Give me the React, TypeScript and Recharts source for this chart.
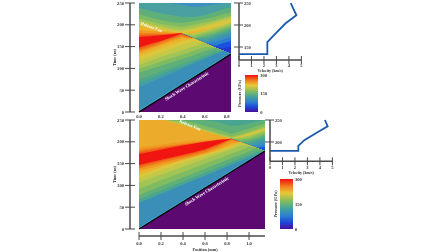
import React from "react";
import {Area, Bar, BarChart, ComposedChart, Label, Line, LineChart, ReferenceDot, XAxis, YAxis} from "recharts";

const FONT = "'Liberation Serif', serif";
const AXIS = "#4a4a4a";

// upper panel: boundaries of the painted bands, time (ns) at each position (mm)
const topPositions = [0, 0.1, 0.2, 0.3, 0.39, 0.5, 0.6, 0.7, 0.77, 0.84];
const topShock = [0, 15.8, 31.7, 47.5, 61.7, 79.2, 95, 110.8, 121.9, 133];
const topColors = [
	"#3d8fc0", "#4aa0a0", "#5fb078", "#7fbb62", "#a0c455", "#c2c848", "#dcc63c",
	"#ecb32c", "#c2c848", "#a0c455", "#7fbb62", "#5fb078", "#4aa590", "#3f9aa8", "#3a8fc0", "#2a7fd0", "#1a50dc", "#2235d0",
	"#ecb32c", "#f09a22", "#f07a1c", "#f05a16", "#f01510",
	"#f05a16", "#f07a1c", "#f09a22", "#ecb32c", "#dcc63c", "#c2c848", "#a0c455", "#7fbb62", "#5fb078", "#4fa888", "#42a0a0", "#3a8fb8",
	"#4fc8dc", "#5c0a72",
];
const topBands = [
	[250, 250, 250, 250, 250, 250, 250, 250, 250, 250],
	[250, 250, 250, 249, 246, 240, 243, 247, 250, 250],
	[238, 232, 226, 222, 218, 218, 222, 230, 236, 240],
	[224, 217, 211, 206, 204, 208, 213, 219, 224, 228],
	[214, 208, 202, 198, 195, 200, 205, 211, 216, 221],
	[208, 202, 196, 191, 188, 194, 200, 207, 212, 217],
	[203, 197, 192, 187, 184, 189, 195, 203, 208, 213],
	[null, null, null, null, 180, 186, 190, 195, 200, 206],
	[null, null, null, null, 180, 181, 187, 195, 200, 206],
	[null, null, null, null, 180, 177, 184, 192, 198, 204],
	[null, null, null, null, 180, 173, 180, 187, 193, 199],
	[null, null, null, null, 180, 169, 175, 182, 188, 194],
	[null, null, null, null, 180, 168.5, 170, 177, 183, 189],
	[null, null, null, null, 180, 168.5, 164, 172, 178, 184],
	[null, null, null, null, 180, 168.5, 159, 167, 173, 179],
	[null, null, null, null, 180, 168.5, 158, 160, 166, 172],
	[null, null, null, null, 180, 168.5, 158, 152, 158, 163],
	[null, null, null, null, 180, 168.5, 158, 147.6, 147, 150],
	[198, 193, 188, 184, 181, null, null, null, null, null],
	[188, 186, 184, 182, 181, null, null, null, null, null],
	[181, 180, 180, 180, 181, null, null, null, null, null],
	[176, 177, 178, 179.5, 181, null, null, null, null, null],
	[172, 174, 176, 178.5, 181, null, null, null, null, null],
	[148, 156, 163, 172, 180, 168.5, 158, 147.6, 140.3, 133],
	[144, 152, 161, 170, 178, 168.5, 158, 147.6, 140.3, 133],
	[140, 148, 157, 166, 174, 168.5, 158, 147.6, 140.3, 133],
	[135, 144, 153, 162, 170, 168.5, 158, 147.6, 140.3, 133],
	[128, 137, 146, 155, 163, 168.5, 158, 147.6, 140.3, 133],
	[118, 127, 136, 145, 153, 161, 158, 147.6, 140.3, 133],
	[108, 117, 126, 134, 141, 150, 158, 147.6, 140.3, 133],
	[99, 107, 116, 124, 131, 140, 149, 147.6, 140.3, 133],
	[90, 98, 106, 114, 121, 130, 140, 147, 140.3, 133],
	[75, 84, 93, 102, 110, 120, 130, 140, 140.3, 133],
	[66, 76, 86, 96, 104, 115, 125, 135, 140, 133],
	[57, 67.8, 78.6, 89.4, 99.1, 111, 121.8, 132.6, 140.2, 133],
	[3, 18.8, 34.7, 50.5, 64.7, 82.2, 98, 113.8, 124.9, 134],
	topShock,
];

// lower panel
const bottomPositions = [0, 0.12, 0.24, 0.36, 0.48, 0.6, 0.72, 0.84, 0.92, 1.0, 1.07, 1.145];
const bottomShock = [0, 18.8, 37.5, 56.3, 75, 93.8, 112.5, 131.3, 143.8, 156.3, 167.2, 179];
const bottomColors = [
	"#4aa590", "#5fb078", "#7fbb62", "#a0c455", "#c2c848", "#ecab2a", "#dcc63c",
	"#a0c455", "#7fbb62", "#5fb078", "#4aa590", "#3f9aa8", "#3a8fc0", "#2a7fd0", "#1a50dc",
	"#f09a22", "#f07a1c", "#f05a16", "#f01510",
	"#f05a16", "#f07a1c", "#f09a22", "#ecb32c", "#dcc63c", "#c2c848", "#a0c455", "#7fbb62", "#5fb078", "#4aa590", "#3a8fb8",
	"#4fc8dc", "#5c0a72",
];
const bottomBands = [
	[250, 250, 250, 250, 250, 250, 250, 250, 250, 250, 250, 250],
	[250, 250, 250, 250, 250, 250, 245, 236, 238, 242, 246, 250],
	[250, 250, 250, 250, 245, 236, 228, 218, 224, 230, 236, 242],
	[250, 250, 250, 247, 238, 229, 220, 212, 217, 223, 229, 236],
	[250, 250, 250, 243, 234, 226, 217, 209, 214, 220, 226, 232],
	[250, 250, 250, 241, 232.6, 224, 215.6, 207, null, null, null, null],
	[null, null, null, null, null, null, null, 207, 212, 218, 224, 229],
	[null, null, null, null, null, null, null, 207, 210, 214, 220, 226],
	[null, null, null, null, null, null, null, 207, 206, 209, 215, 221],
	[null, null, null, null, null, null, null, 207, 202, 204, 210, 216],
	[null, null, null, null, null, null, null, 207, 199.6, 199, 205, 211],
	[null, null, null, null, null, null, null, 207, 199.6, 194, 200, 206],
	[null, null, null, null, null, null, null, 207, 199.6, 192.3, 194, 201],
	[null, null, null, null, null, null, null, 207, 199.6, 192.3, 188, 195],
	[null, null, null, null, null, null, null, 207, 199.6, 192.3, 185.8, 188],
	[187, 191, 195, 199, 202, 204, 206, 207, null, null, null, null],
	[181, 186, 190, 194, 198, 201, 205, 207, null, null, null, null],
	[176, 182, 187, 192, 196, 200, 204, 207, null, null, null, null],
	[172, 178, 184, 190, 195, 200, 204, 207, null, null, null, null],
	[147, 154, 161, 168, 175, 183, 195, 207, 199.6, 192.3, 185.8, 179],
	[143, 151, 158, 165, 172, 180, 192, 206, 199.6, 192.3, 185.8, 179],
	[139, 147, 154, 161, 168, 176, 188, 204, 199.6, 192.3, 185.8, 179],
	[133, 141, 149, 156, 164, 172, 183, 196, 199.6, 192.3, 185.8, 179],
	[125, 135, 145, 156, 164, 172, 180, 191, 199.6, 192.3, 185.8, 179],
	[117, 127.6, 138, 149, 159, 168, 177, 186, 198, 192.3, 185.8, 179],
	[106, 117, 128, 139, 150, 161, 172, 183, 190.6, 192, 185.8, 179],
	[92, 103.5, 115, 126.6, 138, 149.6, 161, 172.6, 180, 188, 185.8, 179],
	[78, 90, 102, 114, 126, 138, 150, 162, 170, 178, 185, 179],
	[68, 80, 92.5, 104.7, 117, 129, 141.4, 153.7, 162, 170, 177, 179],
	[60, 72.5, 85, 97.4, 110, 122.4, 135, 147.4, 155.7, 164, 171, 179],
	[3, 21.8, 40.5, 59.3, 78, 96.8, 115.5, 134.3, 146.8, 159.3, 170.2, 180],
	bottomShock,
];

const timeTicks = [0, 50, 100, 150, 200, 250];
const topPositionTicks = [0, 0.2, 0.4, 0.6, 0.8];
const bottomPositionTicks = [0, 0.2, 0.4, 0.6, 0.8, 1.0];

const velocityTicks = [0, 1, 2, 3, 4, 5];
const topVelocity = [0, 2.27, 2.27, 2.94, 3.74, 4.6, 4.15];
const topVelocityTime = [134, 134, 161, 181, 204, 222, 250];
const bottomVelocity = [0, 2.27, 2.27, 2.75, 3.74, 4.62, 4.4];
const bottomVelocityTime = [179.5, 179.5, 191, 204, 221, 235.7, 250];

const pressureTicks = [0, 150, 300];

const toTable = (positions: number[], bands: (number | null)[][], shock: number[]) =>
	positions.map((x, i) => {
		const row: Record<string, number | null> = {x, shock: shock[i]};
		bands.forEach((b, k) => {
			row[`b${k}`] = b[i];
		});
		return row;
	});

function Rotated({x, y, text}: {x: number; y: number; text: string}) {
	return (
		<text x={x} y={y} transform={`rotate(-90 ${x} ${y})`} textAnchor='middle' fontFamily={FONT} fontWeight='bold' fontSize={4.2} fill='#333'>
			{text}
		</text>
	);
}

function LeftTick({x, y, payload}: any) {
	return (
		<g>
			<line x1={x - 5} x2={x + 5} y1={y} y2={y} stroke={AXIS} strokeWidth={1} />
			<text x={x - 6} y={y + 1.6} textAnchor='end' fontFamily={FONT} fontWeight='bold' fontSize={4.6} fill='#333'>
				{payload.value}
			</text>
		</g>
	);
}

function RightLabelTick({x, y, payload}: any) {
	return (
		<g>
			<line x1={x - 5} x2={x + 4} y1={y} y2={y} stroke={AXIS} strokeWidth={1} />
			<text x={x + 5} y={y + 1.6} fontFamily={FONT} fontWeight='bold' fontSize={4.6} fill='#333'>
				{payload.value}
			</text>
		</g>
	);
}

function BottomTick({x, y, payload, digits, mark, gap}: any) {
	return (
		<g>
			{mark && <line x1={x} x2={x} y1={y - 4} y2={y + 4} stroke={AXIS} strokeWidth={1} />}
			<text x={x} y={y + gap} textAnchor='middle' fontFamily={FONT} fontWeight='bold' fontSize={4.6} fill='#333'>
				{payload.value.toFixed(digits)}
			</text>
		</g>
	);
}

function Contour({box, plotWidth, plotHeight, xMax, table, colors, ticks, xLine, releaseFan, shockLabel}: any) {
	const extra = xLine ? 7 : 0;
	return (
		<div style={{position: "absolute", left: box.left, top: box.top - 6}}>
			<ComposedChart
				width={plotWidth + 20}
				height={plotHeight + extra + 22 + 6}
				data={table}
				margin={{left: 10, right: 10, top: 6, bottom: 0}}
			>
				<XAxis
					dataKey='x'
					type='number'
					domain={[0, xMax]}
					ticks={ticks}
					height={22}
					axisLine={xLine ? {stroke: AXIS, strokeWidth: 1.5} : false}
					tickLine={false}
					tickSize={0}
					tickMargin={0}
					interval={0}
					tick={<BottomTick digits={1} mark={xLine} gap={xLine ? 9 : 6} />}
					label={xLine ? <Label content={() => <text x={76} y={plotHeight + extra + 21} textAnchor='middle' fontFamily={FONT} fontWeight='bold' fontSize={4.2} fill='#333'>Position (mm)</text>} /> : undefined}
				/>
				<YAxis hide domain={[0, 250]} padding={{bottom: extra, top: 0}} />
				{colors.map((c: string, k: number) => (
					<Area key={k} dataKey={`b${k}`} type='linear' fill={c} fillOpacity={1} stroke='none' dot={false} activeDot={false} isAnimationActive={false} />
				))}
				<Line dataKey='shock' type='linear' stroke='#000' strokeWidth={1.3} dot={false} activeDot={false} isAnimationActive={false} />
				<ReferenceDot x={releaseFan.x} y={releaseFan.y} r={0} stroke='none' label={{value: "Release Fan", fill: "#fff", fontSize: 4.4, fontWeight: "bold", fontFamily: FONT, angle: releaseFan.angle, position: "center"}} />
				<ReferenceDot x={shockLabel.x} y={shockLabel.y} r={0} stroke='none' label={{value: "Shock Wave Characteristic", fill: "#fff", fontSize: 4.4, fontWeight: "bold", fontFamily: FONT, angle: shockLabel.angle, position: "center"}} />
			</ComposedChart>
		</div>
	);
}

function TimeAxis({top, height}: {top: number; height: number}) {
	return (
		<div style={{position: "absolute", left: 100, top: top - 4}}>
			<LineChart width={40} height={height + 8} data={[{t: 0}]} margin={{left: 0, right: 5, top: 4, bottom: 4}}>
				<YAxis
					dataKey='t'
					type='number'
					domain={[0, 250]}
					ticks={timeTicks}
					interval={0}
					width={30}
					axisLine={{stroke: AXIS, strokeWidth: 1.5}}
					tickLine={false}
					tickSize={0}
					tickMargin={0}
					tick={<LeftTick />}
					label={<Label content={() => <Rotated x={16} y={height / 2 + 4} text='Time (ns)' />} />}
				/>
			</LineChart>
		</div>
	);
}

function Velocity({left, top, width, height, velocity, time, low, ticks}: any) {
	const data = velocity.map((v: number, i: number) => ({v, t: time[i]}));
	return (
		<div style={{position: "absolute", left: left - 8, top: top - 3}}>
			<LineChart width={width + 20} height={height + 3 + 16} data={data} margin={{left: 7, right: 12, top: 3, bottom: 0}}>
				<XAxis
					dataKey='v'
					type='number'
					domain={[0, 5]}
					ticks={velocityTicks}
					interval={0}
					height={16}
					axisLine={{stroke: AXIS, strokeWidth: 1.5}}
					tickLine={false}
					tickSize={0}
					tickMargin={0}
					tick={<BottomTick digits={0} mark gap={7.5} />}
					label={<Label content={() => <text x={8 + width / 2} y={height + 3 + 12.5} textAnchor='middle' fontFamily={FONT} fontWeight='bold' fontSize={4} fill='#333'>Velocity (km/s)</text>} />}
				/>
				<YAxis
					dataKey='t'
					type='number'
					domain={[low, 250]}
					ticks={ticks}
					interval={0}
					width={1}
					axisLine={{stroke: AXIS, strokeWidth: 1.5}}
					tickLine={false}
					tickSize={0}
					tickMargin={0}
					tick={<RightLabelTick />}
				/>
				<Line dataKey='t' type='linear' stroke='#1c5aad' strokeWidth={1.8} dot={false} activeDot={false} isAnimationActive={false} />
			</LineChart>
		</div>
	);
}

function ColorBar({left, top, width, height, id}: any) {
	return (
		<div style={{position: "absolute", left: left - 9, top: top - 3}}>
			<BarChart width={width + 9 + 20} height={height + 6} data={[{name: "Pressure", value: 300}]} barCategoryGap={0} margin={{left: 9, right: 0, top: 3, bottom: 3}}>
				<defs>
					<linearGradient id={id} x1='0' y1='0' x2='0' y2='1'>
						<stop offset='0%' stopColor='#f01010' />
						<stop offset='14%' stopColor='#f07a1c' />
						<stop offset='28%' stopColor='#e8c838' />
						<stop offset='45%' stopColor='#7fbb62' />
						<stop offset='60%' stopColor='#42a0a0' />
						<stop offset='74%' stopColor='#2a7fd0' />
						<stop offset='87%' stopColor='#1f45d8' />
						<stop offset='100%' stopColor='#4a0f9a' />
					</linearGradient>
				</defs>
				<XAxis dataKey='name' hide />
				<YAxis
					orientation='right'
					type='number'
					domain={[0, 300]}
					ticks={pressureTicks}
					interval={0}
					width={20}
					axisLine={false}
					tickLine={false}
					tickSize={0}
					tickMargin={2}
					tick={{fontFamily: FONT, fontWeight: "bold", fontSize: 4.6, fill: "#333"}}
					label={<Label content={() => <Rotated x={5.5} y={height / 2 + 3} text='Pressure (GPa)' />} />}
				/>
				<Bar dataKey='value' fill={`url(#${id})`} isAnimationActive={false} />
			</BarChart>
		</div>
	);
}

export default function App() {
	return (
		<div style={{position: "absolute", left: 0, top: 0, width: 448, height: 252, background: "#fff", overflow: "hidden", filter: "blur(0.4px)"}}>
			<TimeAxis top={3} height={109} />
			<TimeAxis top={120} height={109} />
			<Contour
				box={{left: 129, top: 3}}
				plotWidth={92}
				plotHeight={109}
				xMax={0.84}
				table={toTable(topPositions, topBands, topShock)}
				colors={topColors}
				ticks={topPositionTicks}
				xLine={false}
				releaseFan={{x: 0.115, y: 195, angle: 20}}
				shockLabel={{x: 0.436, y: 59.6, angle: -32}}
			/>
			<Contour
				box={{left: 129, top: 120}}
				plotWidth={126}
				plotHeight={109}
				xMax={1.145}
				table={toTable(bottomPositions, bottomBands, bottomShock)}
				colors={bottomColors}
				ticks={bottomPositionTicks}
				xLine
				releaseFan={{x: 0.464, y: 238.5, angle: 22}}
				shockLabel={{x: 0.615, y: 87, angle: -32}}
			/>
			<Velocity left={238.6} top={3} width={62.4} height={57} velocity={topVelocity} time={topVelocityTime} low={120.5} ticks={[150, 200, 250]} />
			<Velocity left={270.3} top={119.7} width={62.4} height={41.3} velocity={bottomVelocity} time={bottomVelocityTime} low={156} ticks={[200, 250]} />
			<ColorBar left={244.7} top={75} width={13.3} height={37} id='pressureTop' />
			<ColorBar left={280} top={179} width={13} height={50} id='pressureBottom' />
		</div>
	);
}
